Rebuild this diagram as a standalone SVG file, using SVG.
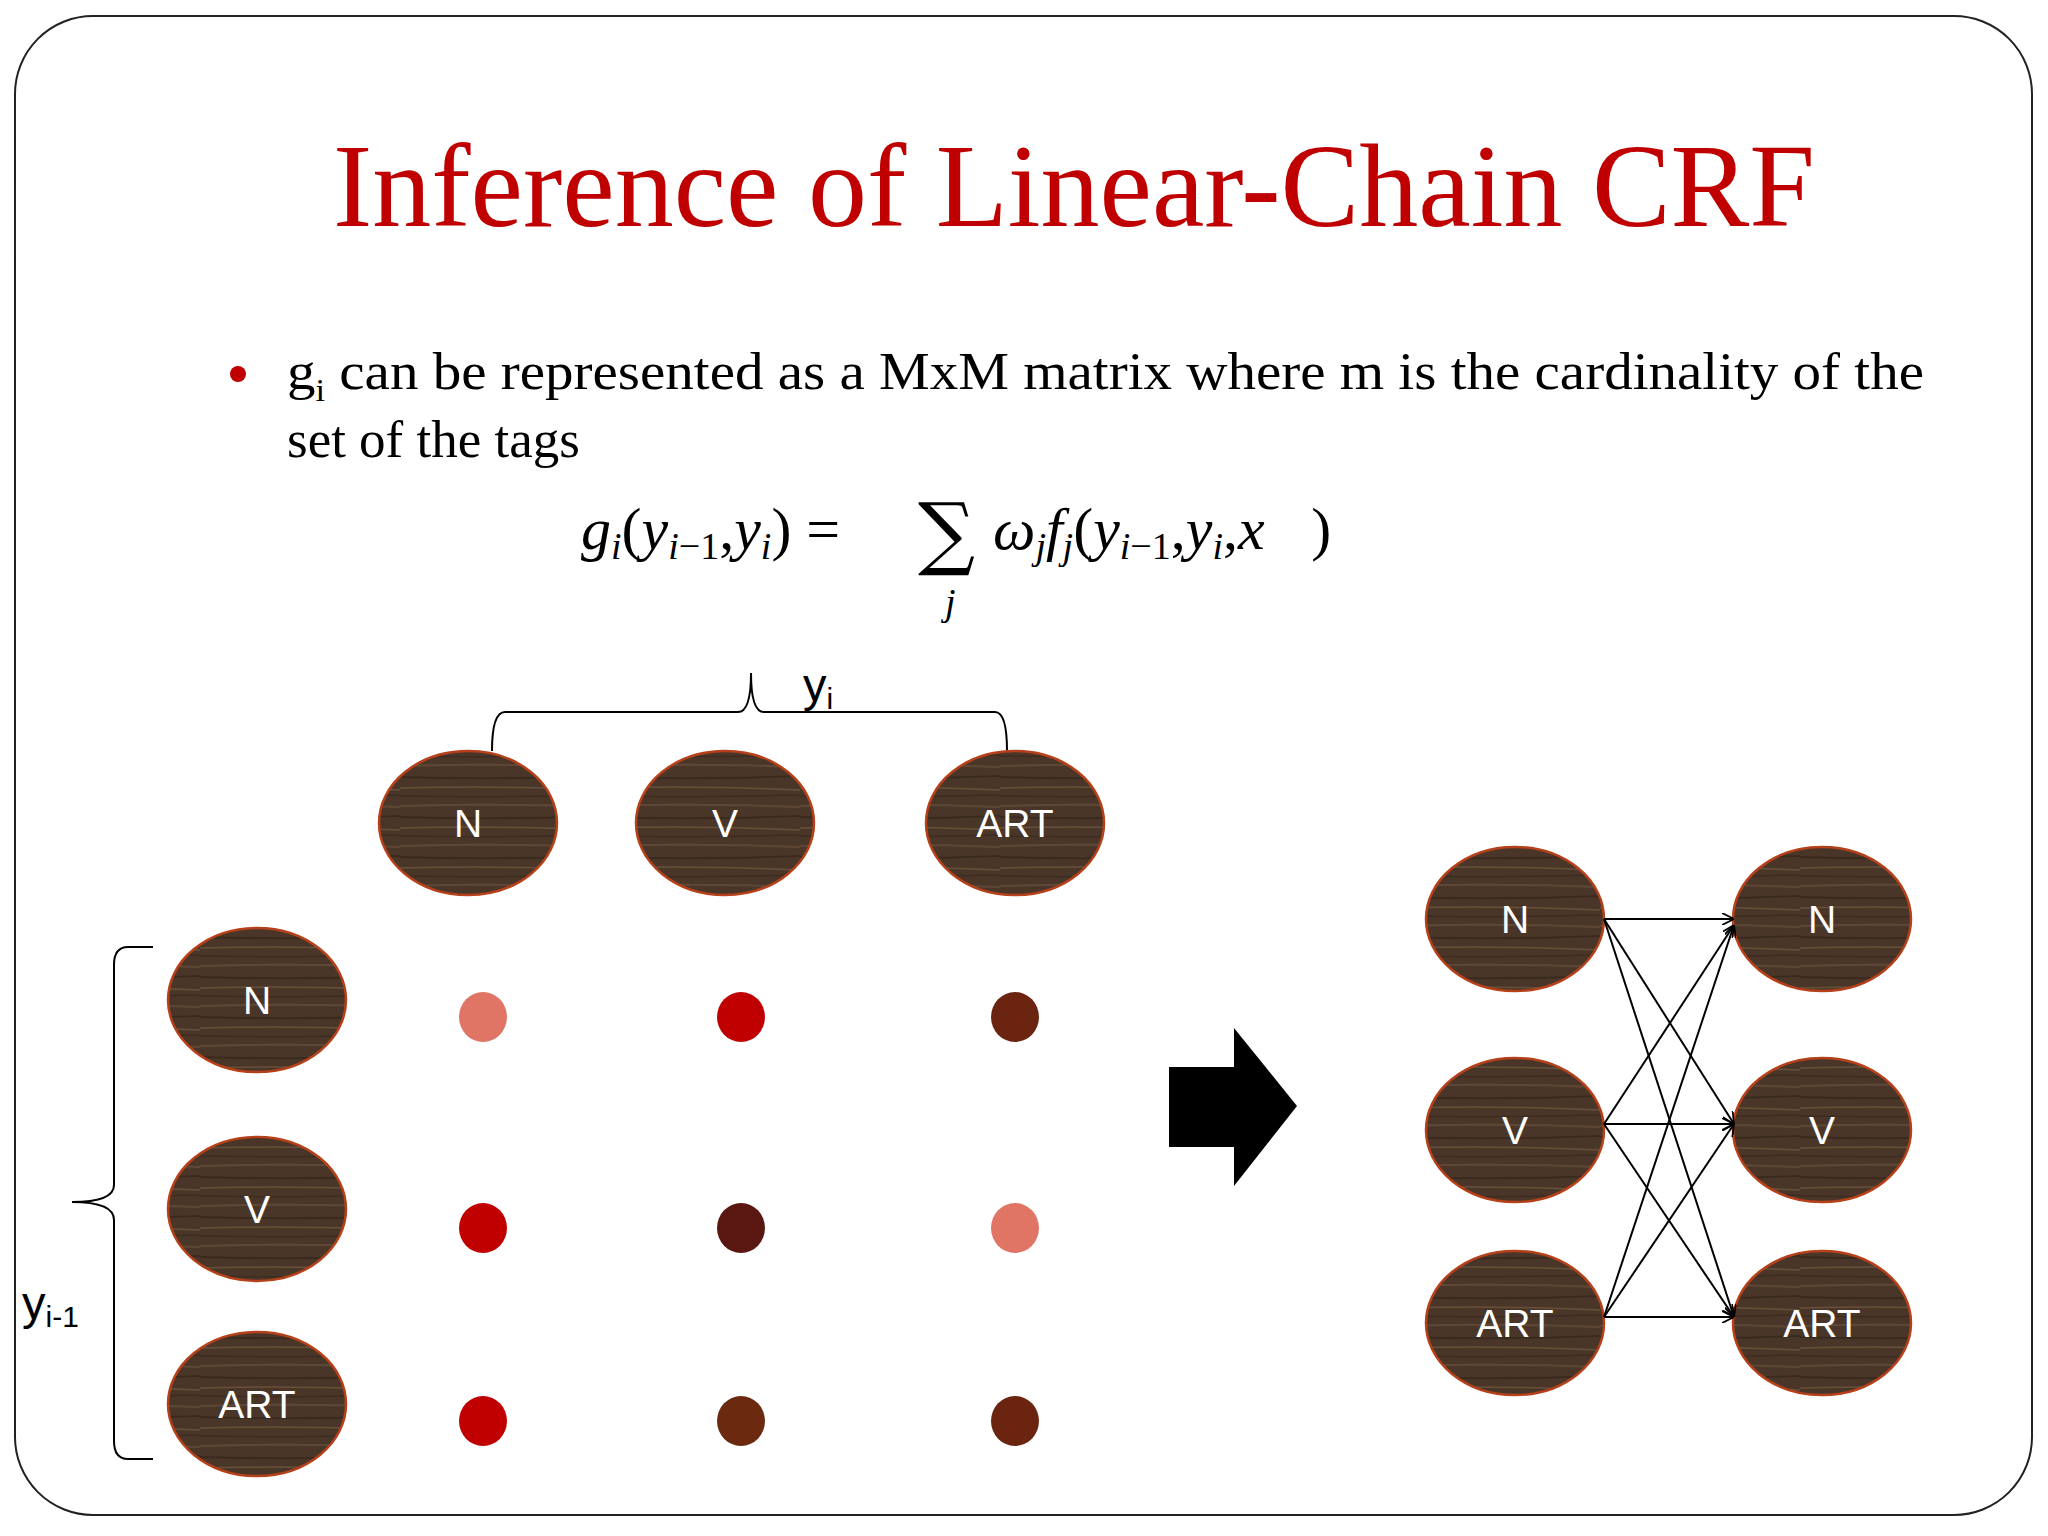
<svg xmlns="http://www.w3.org/2000/svg" width="2048" height="1536" viewBox="0 0 2048 1536">
<defs>
<pattern id="wood" patternUnits="userSpaceOnUse" width="200" height="40">
<rect width="200" height="40" fill="#4a3628"/>
<path d="M0 6 Q100 3 200 7" stroke="#5e4735" stroke-width="2" fill="none"/>
<path d="M0 17 Q100 20 200 16" stroke="#3a2a1e" stroke-width="2" fill="none"/>
<path d="M0 28 Q100 25 200 30" stroke="#66503a" stroke-width="1.5" fill="none"/>
<path d="M0 36 Q100 38 200 35" stroke="#3c2b1f" stroke-width="1.5" fill="none"/>
</pattern>
<marker id="ah" viewBox="0 0 10 10" refX="10" refY="5" markerWidth="12" markerHeight="12" markerUnits="userSpaceOnUse" orient="auto">
<path d="M0 0 L10 5 L0 10" fill="none" stroke="#000" stroke-width="1.5"/>
</marker>
</defs>
<style>
.node ellipse{fill:url(#wood);stroke:#b5401a;stroke-width:2.5}
.node text{fill:#fff;font-family:"Liberation Sans",Arial,sans-serif;font-size:39px;text-anchor:middle}
.edge{stroke:#000;stroke-width:2;fill:none;marker-end:url(#ah)}
.math{font-family:"Liberation Serif","Times New Roman",serif;font-style:italic;fill:#000}
.body{font-family:"Liberation Serif","Times New Roman",serif;font-size:53px;fill:#000}
.lbl{font-family:"Liberation Sans",Arial,sans-serif;font-size:47px;fill:#000}
</style>
<rect width="2048" height="1536" fill="#fff"/>
<rect x="15" y="16" width="2017" height="1499" rx="78" fill="none" stroke="#222" stroke-width="2"/>
<text x="1074" y="226" text-anchor="middle" font-family="'Liberation Serif','Times New Roman',serif" font-size="118" fill="#c00000">Inference of Linear-Chain CRF</text>
<circle cx="238" cy="374" r="8" fill="#c00000"/>
<text class="body" x="287" y="389" textLength="1637" lengthAdjust="spacingAndGlyphs">g<tspan font-size="32" dy="12">i</tspan><tspan dy="-12"> can be represented as a MxM matrix where m is the cardinality of the</tspan></text>
<text class="body" x="287" y="457">set of the tags</text>
<text class="math" x="581" y="549" font-size="60">g<tspan font-size="38" dy="10">i</tspan><tspan dy="-10" font-style="normal">(</tspan>y<tspan font-size="38" dy="10">i</tspan><tspan font-size="38" font-style="normal">−1</tspan><tspan dy="-10" font-style="normal">,</tspan>y<tspan font-size="38" dy="10">i</tspan><tspan dy="-10" font-style="normal">) = </tspan></text>
<text x="918" y="560" font-family="'DejaVu Serif',serif" font-size="80">∑</text>
<text class="math" x="945" y="615" font-size="38">j</text>
<text class="math" x="993" y="549" font-size="60">ω<tspan font-size="38" dy="10">j</tspan><tspan dy="-10">f</tspan><tspan font-size="38" dy="10">j</tspan><tspan dy="-10" font-style="normal">(</tspan>y<tspan font-size="38" dy="10">i</tspan><tspan font-size="38" font-style="normal">−1</tspan><tspan dy="-10" font-style="normal">,</tspan>y<tspan font-size="38" dy="10">i</tspan><tspan dy="-10" font-style="normal">,</tspan>x⃗<tspan font-style="normal">)</tspan></text>
<g id="brace-top" fill="none" stroke="#000" stroke-width="2">
<path d="M492 751 Q492 712 505 712 L738 712 Q751 712 751 673 Q751 712 764 712 L995 712 Q1007 712 1007 751"/>
</g>
<text class="lbl" x="803" y="701">y<tspan font-size="30" dy="8">i</tspan></text>
<g id="brace-left" fill="none" stroke="#000" stroke-width="2">
<path d="M153 947 L128 947 Q114 947 114 965 L114 1185 Q114 1202 72 1202 Q114 1202 114 1220 L114 1441 Q114 1459 128 1459 L153 1459"/>
</g>
<text class="lbl" x="22" y="1319">y<tspan font-size="30" dy="8">i-1</tspan></text>
<g id="top-N" class="node"><ellipse cx="468" cy="823" rx="89" ry="72"/><text x="468" y="837">N</text></g>
<g id="top-V" class="node"><ellipse cx="725" cy="823" rx="89" ry="72"/><text x="725" y="837">V</text></g>
<g id="top-ART" class="node"><ellipse cx="1015" cy="823" rx="89" ry="72"/><text x="1015" y="837">ART</text></g>
<g id="left-N" class="node"><ellipse cx="257" cy="1000" rx="89" ry="72"/><text x="257" y="1014">N</text></g>
<g id="left-V" class="node"><ellipse cx="257" cy="1209" rx="89" ry="72"/><text x="257" y="1223">V</text></g>
<g id="left-ART" class="node"><ellipse cx="257" cy="1404" rx="89" ry="72"/><text x="257" y="1418">ART</text></g>
<g id="dots">
<ellipse cx="483" cy="1017" rx="24" ry="25" fill="#e07565"/>
<ellipse cx="741" cy="1017" rx="24" ry="25" fill="#c00000"/>
<ellipse cx="1015" cy="1017" rx="24" ry="25" fill="#6b2410"/>
<ellipse cx="483" cy="1228" rx="24" ry="25" fill="#c00000"/>
<ellipse cx="741" cy="1228" rx="24" ry="25" fill="#5a1712"/>
<ellipse cx="1015" cy="1228" rx="24" ry="25" fill="#e07565"/>
<ellipse cx="483" cy="1421" rx="24" ry="25" fill="#c00000"/>
<ellipse cx="741" cy="1421" rx="24" ry="25" fill="#6b2a10"/>
<ellipse cx="1015" cy="1421" rx="24" ry="25" fill="#6b2410"/>
</g>
<g id="big-arrow"><path d="M1169 1067 L1234 1067 L1234 1028 L1297 1106 L1234 1186 L1234 1147 L1169 1147 Z" fill="#000"/></g>
<g id="r-N1" class="node"><ellipse cx="1515" cy="919" rx="89" ry="72"/><text x="1515" y="933">N</text></g>
<g id="r-V1" class="node"><ellipse cx="1515" cy="1130" rx="89" ry="72"/><text x="1515" y="1144">V</text></g>
<g id="r-ART1" class="node"><ellipse cx="1515" cy="1323" rx="89" ry="72"/><text x="1515" y="1337">ART</text></g>
<g id="r-N2" class="node"><ellipse cx="1822" cy="919" rx="89" ry="72"/><text x="1822" y="933">N</text></g>
<g id="r-V2" class="node"><ellipse cx="1822" cy="1130" rx="89" ry="72"/><text x="1822" y="1144">V</text></g>
<g id="r-ART2" class="node"><ellipse cx="1822" cy="1323" rx="89" ry="72"/><text x="1822" y="1337">ART</text></g>
<g id="connectors">
<line class="edge" x1="1604" y1="919" x2="1734" y2="919"/>
<line class="edge" x1="1604" y1="919" x2="1734" y2="1124"/>
<line class="edge" x1="1604" y1="919" x2="1734" y2="1317"/>
<line class="edge" x1="1604" y1="1124" x2="1734" y2="925"/>
<line class="edge" x1="1604" y1="1124" x2="1734" y2="1124"/>
<line class="edge" x1="1604" y1="1124" x2="1734" y2="1317"/>
<line class="edge" x1="1604" y1="1317" x2="1734" y2="925"/>
<line class="edge" x1="1604" y1="1317" x2="1734" y2="1124"/>
<line class="edge" x1="1604" y1="1317" x2="1734" y2="1317"/>
</g>
</svg>
